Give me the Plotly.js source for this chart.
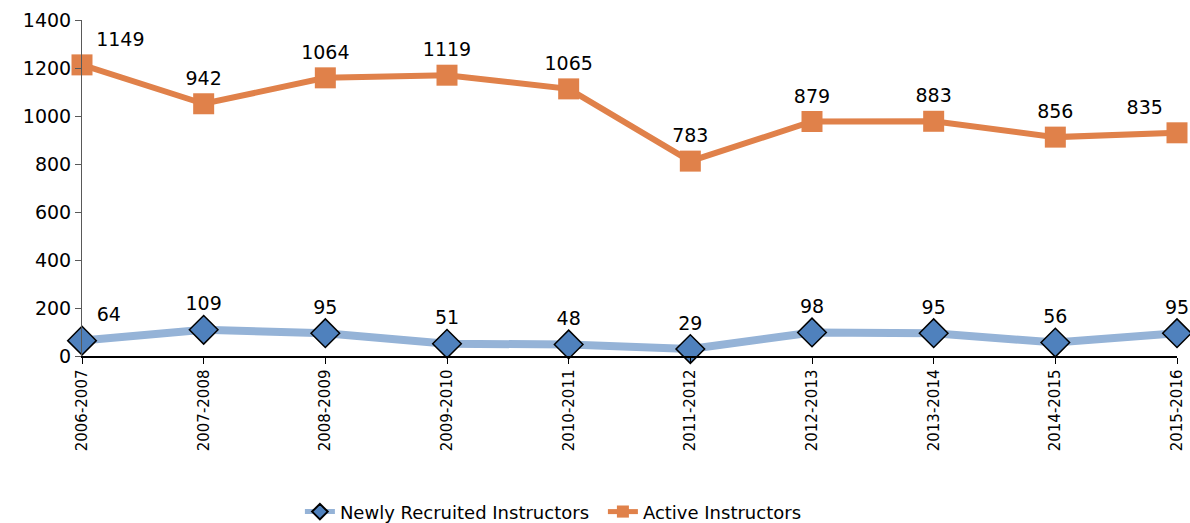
<!DOCTYPE html>
<html>
<head>
<meta charset="utf-8">
<script src="https://cdn.plot.ly/plotly-3.0.1.min.js"></script>
<style>html,body{margin:0;padding:0;background:#fff;}#chart{width:1190px;height:523px;}</style>
</head>
<body>
<div id="chart"></div>
<script>
var categories = ["2006-2007","2007-2008","2008-2009","2009-2010","2010-2011","2011-2012","2012-2013","2013-2014","2014-2015","2015-2016"];
var newlyRecruited = [64,109,95,51,48,29,98,95,56,95];
var activeInstructors = [1149,942,1064,1119,1065,783,879,883,856,835];
var yTicks = [0,200,400,600,800,1000,1200,1400];

var FONT = "'DejaVu Sans', sans-serif";
function positions(n, lastLeft){
  var p=[];
  for(var i=0;i<n;i++){
    if(i===0) p.push("top right");
    else if(i===n-1 && lastLeft) p.push("top left");
    else p.push("top center");
  }
  return p;
}

var traces = [
  {
    name: "Newly Recruited Instructors",
    x: categories, y: newlyRecruited,
    stackgroup: "s", fill: "none",
    mode: "lines+markers+text",
    line: {color: "#95b3d7", width: 8},
    marker: {symbol: "diamond", size: 22, color: "#4f81bd", line: {color: "#000", width: 1.5}},
    text: newlyRecruited.map(String),
    textposition: positions(newlyRecruited.length, false),
    textfont: {family: FONT, size: 19, color: "#000"},
    cliponaxis: false, hoverinfo: "skip"
  },
  {
    name: "Active Instructors",
    x: categories, y: activeInstructors,
    stackgroup: "s", fill: "none",
    mode: "lines+markers+text",
    line: {color: "#e0814a", width: 6},
    marker: {symbol: "square", size: 21, color: "#e0814a"},
    text: activeInstructors.map(String),
    textposition: positions(activeInstructors.length, true),
    textfont: {family: FONT, size: 19, color: "#000"},
    cliponaxis: false, hoverinfo: "skip"
  }
];

var layout = {
  width: 1190, height: 523,
  margin: {l: 82, r: 13, t: 20, b: 167, autoexpand: false},
  paper_bgcolor: "#fff", plot_bgcolor: "#fff",
  font: {family: FONT, color: "#000"},
  showlegend: true,
  legend: {orientation: "h", x: 0.199, xanchor: "left", y: -0.464, yanchor: "middle",
           font: {family: FONT, size: 18, color: "#000"}, traceorder: "normal",
           itemsizing: "constant", entrywidth: 258, entrywidthmode: "pixels"},
  xaxis: {
    type: "category", range: [0, 9], automargin: false,
    showline: true, linecolor: "#000", linewidth: 1.5,
    ticks: "outside", ticklen: 6, tickcolor: "#000",
    tickangle: -90, tickfont: {family: FONT, size: 15, color: "#000"},
    showgrid: false, zeroline: false, fixedrange: true
  },
  yaxis: {
    range: [0, 1400], tickvals: yTicks, ticktext: yTicks.map(String), automargin: false,
    showline: true, linecolor: "#595959", linewidth: 1,
    ticks: "outside", ticklen: 6, tickcolor: "#595959",
    tickfont: {family: FONT, size: 19, color: "#000"},
    showgrid: false, zeroline: false, fixedrange: true
  }
};

Plotly.newPlot("chart", traces, layout, {displayModeBar: false, staticPlot: true});
</script>
</body>
</html>
